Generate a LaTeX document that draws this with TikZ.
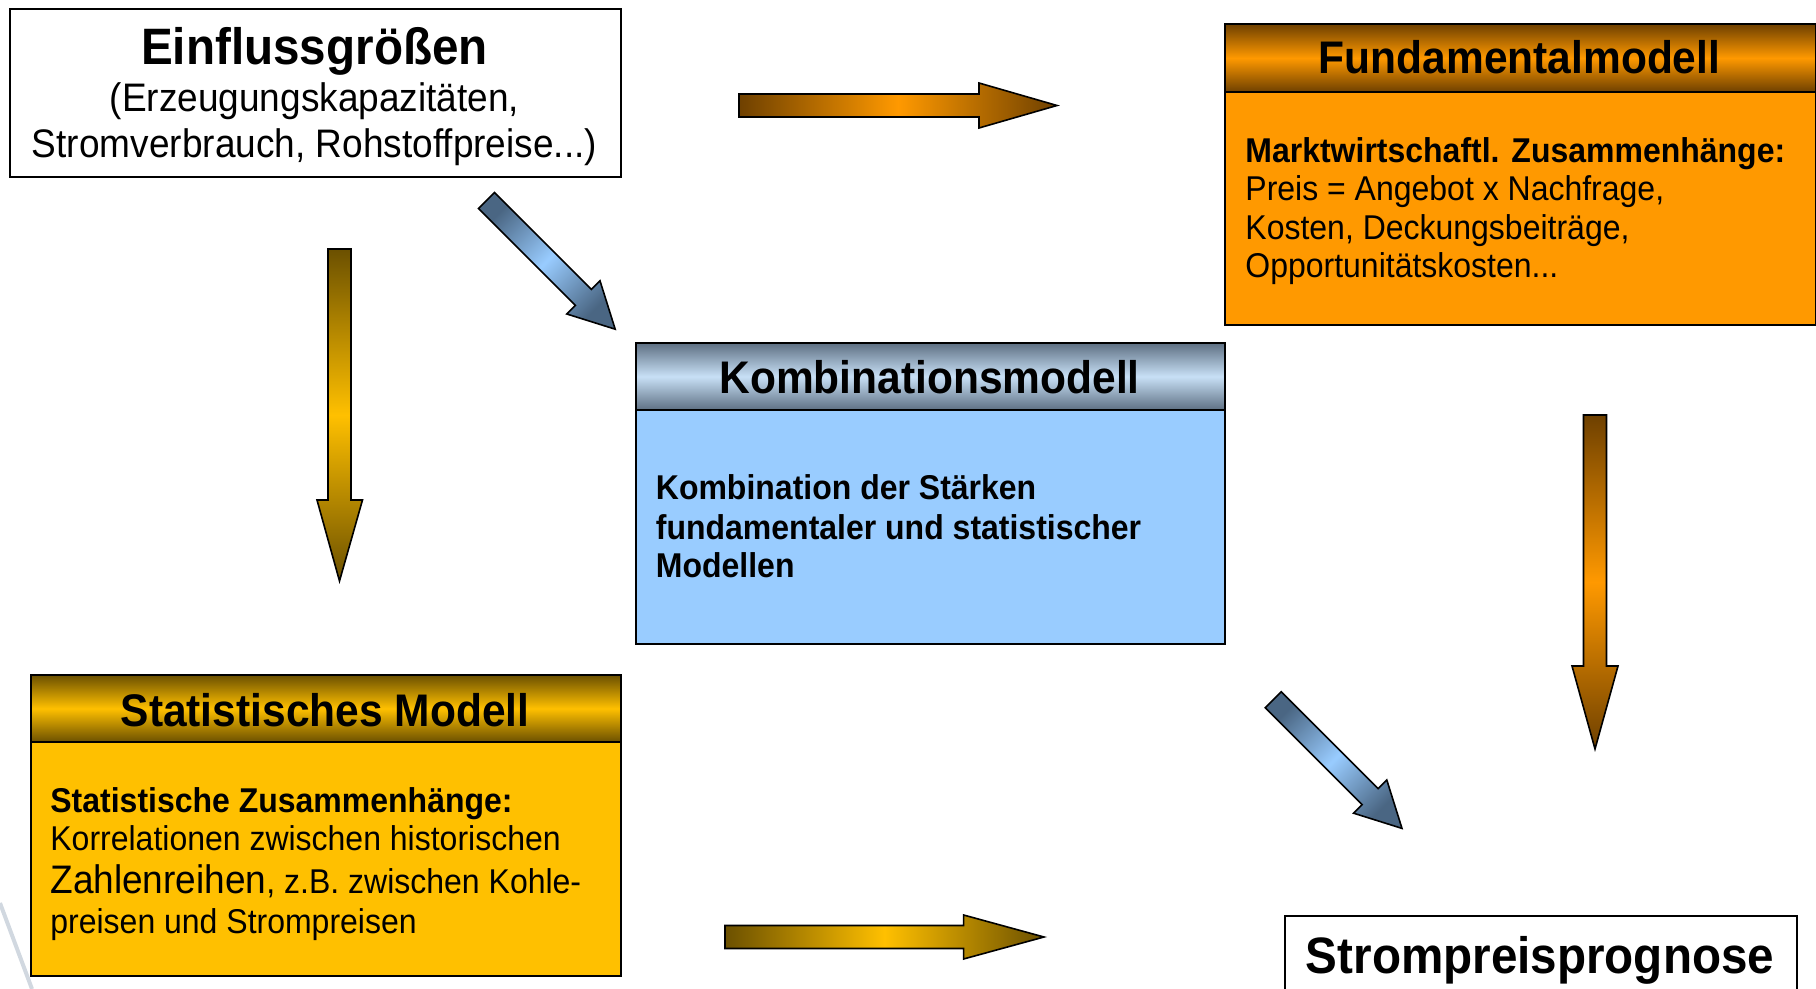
\documentclass[tikz,border=0pt]{standalone}
\usepackage{fontspec}
\setmainfont[FakeStretch=0.93]{Liberation Sans}
\definecolor{orangeA}{HTML}{FF9900}
\definecolor{orangeD}{HTML}{6E4000}
\definecolor{goldA}{HTML}{FFC000}
\definecolor{goldD}{HTML}{6B5000}
\definecolor{blueA}{HTML}{99CCFF}
\definecolor{blueD}{HTML}{4A6683}
\definecolor{blueH}{HTML}{C8E0F6}
\definecolor{blueHD}{HTML}{5E7083}
\begin{document}
\begin{tikzpicture}[x=0.5pt,y=-0.5pt,
  box/.style={draw=black, line width=1pt, rectangle, inner sep=0pt, anchor=north west},
  blockarrow/.style={draw=black, line width=0.8pt, line join=miter},
  hdr/.style={anchor=base, inner sep=0pt, font=\bfseries\fontsize{22.85}{26}\selectfont},
  ttl/.style={anchor=base, inner sep=0pt, font=\bfseries\fontsize{25.6}{30}\selectfont},
  sub/.style={anchor=base, inner sep=0pt, font=\fontsize{19.9}{23}\selectfont},
  body/.style={anchor=base west, inner sep=0pt, font=\fontsize{17.2}{20}\selectfont},
  bodyb/.style={body, font=\bfseries\fontsize{17.2}{20}\selectfont}]
\useasboundingbox (0,0) rectangle (1816,989);
\clip (0,0) rectangle (1816,989);

% faint streak bottom left
\draw[line width=2pt, color=blueD!50, opacity=0.5] (0,903) -- (32,989);

% Einflussgroessen
\node[box, fill=white, minimum width=305.5pt, minimum height=84pt] (einfluss) at (9,8) {};
\node[ttl] (einflussT) at (314.5,65) {Einflussgrößen};
\node[sub] (einflussA) at (314.5,112) {(Erzeugungskapazitäten,};
\node[sub] (einflussB) at (314.5,157.5) {Stromverbrauch, Rohstoffpreise...)};

% Fundamentalmodell
\node[box, fill=orangeA, minimum width=295.5pt, minimum height=116.5pt] (fundB) at (1224,91) {};
\node[box, top color=orangeD, bottom color=orangeD, middle color=orangeA, minimum width=295.5pt, minimum height=34pt] (fundH) at (1224,23) {};
\node[hdr] (fundT) at (1519.5,74) {Fundamentalmodell};
\node[bodyb] (fund1) at (1245,163) {Marktwirtschaftl. Zusammenhänge:};
\node[body] (fund2) at (1245,201) {Preis = Angebot x Nachfrage,};
\node[body] (fund3) at (1245,240) {Kosten, Deckungsbeiträge,};
\node[body] (fund4) at (1245,278) {Opportunitätskosten...};

% Kombinationsmodell
\node[box, fill=blueA, minimum width=294.5pt, minimum height=117pt] (kombB) at (635,409) {};
\node[box, top color=blueHD, bottom color=blueHD, middle color=blueH, minimum width=294.5pt, minimum height=33.5pt] (kombH) at (635,342) {};
\node[hdr] (kombT) at (929.5,394) {Kombinationsmodell};
\node[bodyb] (komb1) at (655.5,500) {Kombination der Stärken};
\node[bodyb] (komb2) at (655.5,539) {fundamentaler und statistischer};
\node[bodyb] (komb3) at (655.5,578) {Modellen};

% Statistisches Modell
\node[box, fill=goldA, minimum width=295pt, minimum height=117pt] (statB) at (30,741) {};
\node[box, top color=goldD, bottom color=goldD, middle color=goldA, minimum width=295pt, minimum height=33.5pt] (statH) at (30,674) {};
\node[hdr] (statT) at (325,726) {Statistisches Modell};
\node[bodyb] (stat1) at (50,812) {Statistische Zusammenhänge:};
\node[body] (stat2) at (50,850) {Korrelationen zwischen historischen};
\node[body] (stat3) at (50,893) {{\fontsize{19.9}{23}\selectfont Zahlenreihen}, z.B. zwischen Kohle-};
\node[body] (stat4) at (50,933) {preisen und Strompreisen};

% Strompreisprognose
\node[box, fill=white, minimum width=256pt, minimum height=50pt] (strom) at (1284,915) {};
\node[ttl] (stromT) at (1540,973) {Strompreisprognose};

% block arrows
\path[blockarrow, left color=orangeD, right color=orangeD, middle color=orangeA]
  (739,94) -- (979,94) -- (979,83) -- (1057,105.5) -- (979,128) -- (979,117) -- (739,117) -- cycle;
\path[blockarrow, left color=goldD, right color=goldD, middle color=goldA]
  (725,925.5) -- (963.6,925.5) -- (963.6,915) -- (1044,937) -- (963.6,959) -- (963.6,948.5) -- (725,948.5) -- cycle;
\path[blockarrow, top color=goldD, bottom color=goldD, middle color=goldA]
  (328,249) -- (351,249) -- (351,500) -- (362.5,500) -- (339.5,581) -- (317,500) -- (328,500) -- cycle;
\path[blockarrow, top color=orangeD, bottom color=orangeD, middle color=orangeA]
  (1583.5,415) -- (1606.5,415) -- (1606.5,666) -- (1618,666) -- (1595,749) -- (1572,666) -- (1583.5,666) -- cycle;
\path[blockarrow, left color=blueD, right color=blueD, middle color=blueA, shading angle=45]
  (494.5,192.5) -- (591.4,289.4) -- (600,280.8) -- (615.2,329.2) -- (566.8,314) -- (575.4,305.4) -- (478.5,208.5) -- cycle;
\path[blockarrow, left color=blueD, right color=blueD, middle color=blueA, shading angle=45]
  (1281.3,691.7) -- (1378.2,788.6) -- (1386.8,780) -- (1402,828.4) -- (1353.6,813.2) -- (1362.2,804.6) -- (1265.3,707.7) -- cycle;
\end{tikzpicture}
\end{document}
